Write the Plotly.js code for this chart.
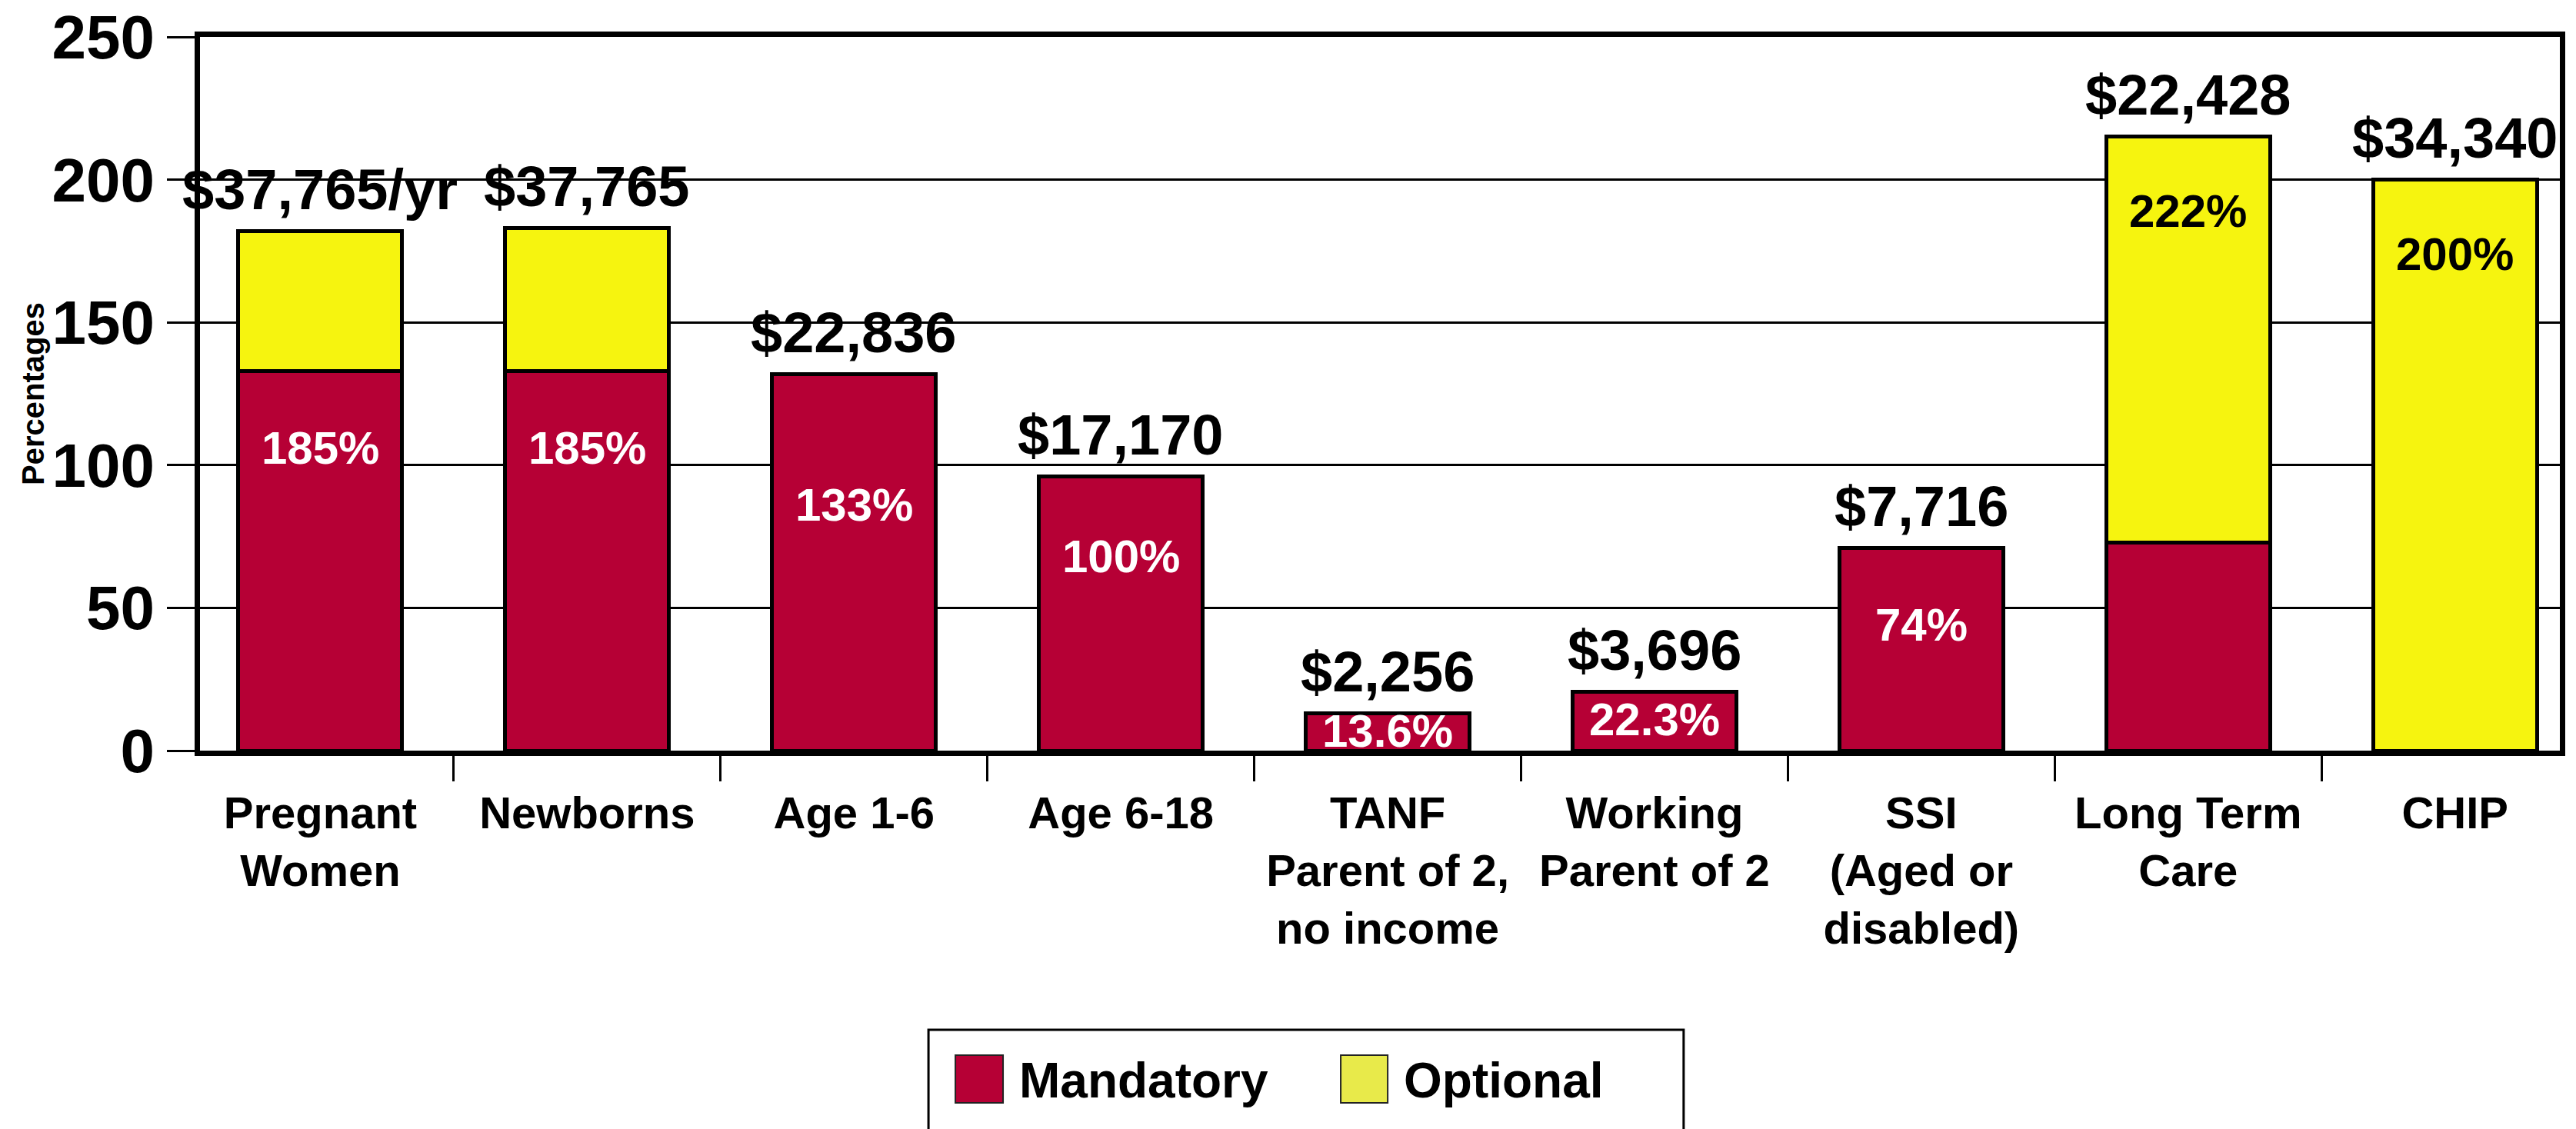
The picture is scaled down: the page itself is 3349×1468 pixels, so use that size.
<!DOCTYPE html>
<html><head><meta charset="utf-8">
<script src="https://cdn.plot.ly/plotly-3.0.1.min.js"></script>
<style>html,body{margin:0;padding:0;background:#fff}</style>
</head><body><div id="chart" style="width:3349px;height:1468px"></div>
<script>
const categories = ["Pregnant<br>Women", "Newborns", "Age 1-6", "Age 6-18", "TANF<br>Parent of 2,<br>no income", "Working<br>Parent of 2", "SSI<br>(Aged or<br>disabled)", "Long Term<br>Care", "CHIP"];
const mandatory = [133, 133, 132, 96, 13, 20.5, 71, 73, null];
const optional = [49, 50, null, null, null, null, null, 142, 200];
const incomeLabels = ["$37,765/yr", "$37,765", "$22,836", "$17,170", "$2,256", "$3,696", "$7,716", "$22,428", "$34,340"];
const percentLabels = ["185%", "185%", "133%", "100%", "13.6%", "22.3%", "74%", "222%", "200%"];
const percentLabelOnOptional = [false, false, false, false, false, false, false, true, true];
const seriesNames = ["Mandatory", "Optional"];
const yTicks = [0, 50, 100, 150, 200, 250];

// label placement (layout, not data)
const percentLabelY = [106, 106, 86, 68, 7, 11, 44, 189, 174];

const FONT = "Liberation Sans, Arial, Helvetica, sans-serif";
const RED = "#B60035", YELLOW = "#F6F40F";

const traces = [
  {type: "bar", name: seriesNames[0], x: categories, y: mandatory, width: 0.614,
   marker: {color: RED, line: {color: "#000", width: 5}}, hoverinfo: "skip"},
  {type: "bar", name: seriesNames[1], x: categories, y: optional, width: 0.614,
   marker: {color: YELLOW, line: {color: "#000", width: 5}}, hoverinfo: "skip"}
];

const annotations = [];
categories.forEach((c, i) => {
  const total = (mandatory[i] || 0) + (optional[i] || 0);
  annotations.push({x: c, y: total, xref: "x", yref: "y", text: incomeLabels[i], showarrow: false,
    yanchor: "middle", yshift: 54, font: {family: FONT, size: 74, weight: "bold", color: "#000"}});
  annotations.push({x: c, y: percentLabelY[i], xref: "x", yref: "y", text: percentLabels[i], showarrow: false,
    yanchor: "middle", font: {family: FONT, size: 60, weight: "bold", color: percentLabelOnOptional[i] ? "#000" : "#fff"}});
});
// custom legend text
annotations.push({xref: "paper", yref: "paper", x: 0.3465, y: -0.4623, xanchor: "left", yanchor: "middle",
  text: seriesNames[0], showarrow: false, font: {family: FONT, size: 64, weight: "bold", color: "#000"}});
annotations.push({xref: "paper", yref: "paper", x: 0.5095, y: -0.4623, xanchor: "left", yanchor: "middle",
  text: seriesNames[1], showarrow: false, font: {family: FONT, size: 64, weight: "bold", color: "#000"}});

const shapes = [
  {type: "rect", xref: "paper", yref: "paper", x0: 0.3087, x1: 0.6287, y0: -0.3912, y1: -0.56,
   line: {color: "#000", width: 3}, fillcolor: "rgba(0,0,0,0)"},
  {type: "rect", xref: "paper", yref: "paper", x0: 0.3201, x1: 0.3403, y0: -0.4267, y1: -0.4935,
   line: {color: "#222", width: 2}, fillcolor: RED},
  {type: "rect", xref: "paper", yref: "paper", x0: 0.4834, x1: 0.5033, y0: -0.4267, y1: -0.4935,
   line: {color: "#222", width: 2}, fillcolor: "#E8EA4A"}
];

const layout = {
  width: 3349, height: 1468,
  margin: {l: 260, r: 21, t: 48, b: 492},
  paper_bgcolor: "#fff", plot_bgcolor: "#fff",
  barmode: "stack", showlegend: false,
  font: {family: FONT, color: "#000"},
  xaxis: {type: "category", range: [-0.451, 8.393], showline: true, linewidth: 7, linecolor: "#000", mirror: true,
    ticks: "outside", tickson: "boundaries", ticklen: 33, tickwidth: 3, tickcolor: "#000", showgrid: false,
    ticklabelstandoff: 24,
    tickfont: {family: FONT, size: 58, weight: "bold", color: "#000"}, fixedrange: true},
  yaxis: {range: [0, 250], tickvals: yTicks, showline: true, linewidth: 7, linecolor: "#000", mirror: true,
    ticks: "outside", ticklen: 36, tickwidth: 3, tickcolor: "#000", showgrid: true, gridcolor: "#000", gridwidth: 3,
    zeroline: false, tickfont: {family: FONT, size: 80, weight: "bold", color: "#000"},
    title: {text: "Percentages", standoff: 0, font: {family: FONT, size: 40, weight: "bold", color: "#000"}}, fixedrange: true},
  annotations: annotations, shapes: shapes
};

Plotly.newPlot("chart", traces, layout, {staticPlot: true, displayModeBar: false});
</script></body></html>
